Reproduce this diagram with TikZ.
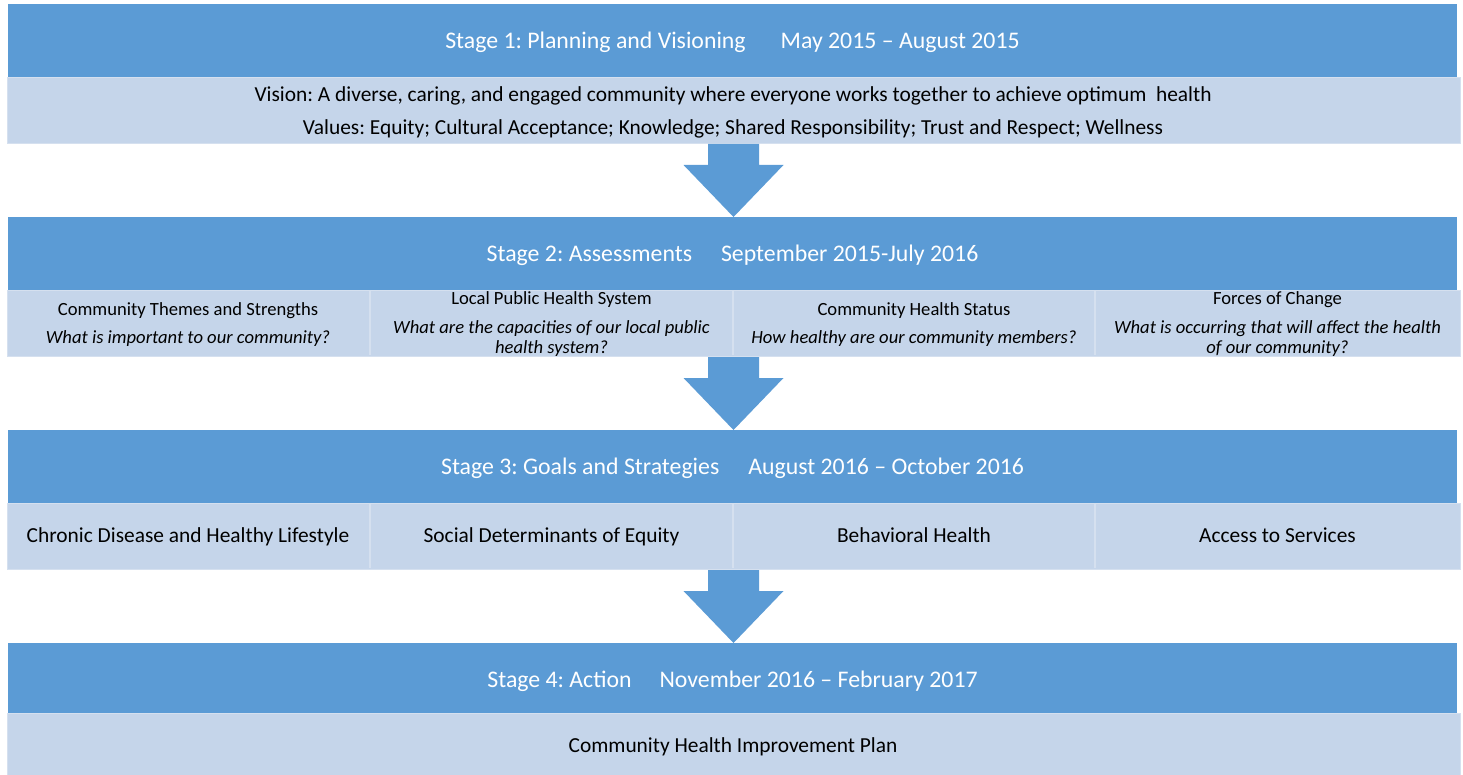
\documentclass[tikz,border=0pt]{standalone}
\usepackage{fontspec}
\setmainfont{Carlito}
\usetikzlibrary{calc}
\definecolor{hdrblue}{HTML}{5B9BD5}
\definecolor{bandblue}{HTML}{C5D5EA}
\definecolor{edgeblue}{HTML}{D5E0EF}
\tikzset{
  hdrbox/.style={fill=hdrblue, draw=none, inner sep=0pt, anchor=north west, minimum width=1449pt},
  bandbox/.style={fill=bandblue, draw=edgeblue, line width=1pt, inner sep=0pt, anchor=north west, minimum width=1453pt, minimum height=66pt},
  txt/.style={inner sep=0pt, text height=0.68em, text depth=0.2em},
  hdrtext/.style={txt, yshift=-6pt, text=white, font=\fontsize{23.8}{28}\selectfont},
  bodytext/.style={txt, yshift=-5pt, text=black, font=\fontsize{21.4}{25}\selectfont},
  celltitle/.style={txt, yshift=-4.5pt, text=black, font=\fontsize{18.6}{22}\selectfont},
  cellq/.style={txt, yshift=-4.5pt, text=black, font=\fontsize{18.6}{22}\selectfont\itshape},
  itemtext/.style={txt, yshift=-5pt, text=black, font=\fontsize{21.4}{25}\selectfont},
  divider/.style={draw=edgeblue, line width=2pt},
  flow/.style={fill=hdrblue, draw=none}
}
\newcommand\flowarrow[2]{%
  \path[flow] let \p1=(#1.south), \p2=(#2.north) in
    (\x1-25.5pt,\y1) -- (\x1+25.5pt,\y1) -- (\x1+25.5pt,\y2+52pt) -- (\x1+50pt,\y2+52pt)
    -- (\x1,\y2) -- (\x1-50pt,\y2+52pt) -- (\x1-25.5pt,\y2+52pt) -- cycle;}
\frenchspacing
\begin{document}
\begin{tikzpicture}[x=1pt,y=-1pt]
\useasboundingbox (0,0) rectangle (1463,775);
% Stage 1
\node[hdrbox, minimum height=73pt] (h1) at (8,4) {};
\node[bandbox] (b1) at (6.5,77) {};
\node[hdrtext] (t1) at (732.5,40.5) {Stage 1: Planning and Visioning\hspace{35pt}May 2015 – August 2015};
\node[bodytext] (vision) at (733,94) {Vision: A diverse, caring, and engaged community where everyone works together to achieve optimum\ \ health};
\node[bodytext] (values) at (733,127) {Values: Equity; Cultural Acceptance; Knowledge; Shared Responsibility; Trust and Respect; Wellness};
% Stage 2
\node[hdrbox, minimum height=73pt] (h2) at (8,217) {};
\node[bandbox] (b2) at (6.5,290) {};
\node[hdrtext] (t2) at (732.5,253) {Stage 2: Assessments\hspace{29pt}September 2015-July 2016};
\draw[divider] (370,291) -- (370,355);
\draw[divider] (733,291) -- (733,355);
\draw[divider] (1095,291) -- (1095,355);
\node[celltitle] (c1t) at (188,309) {Community Themes and Strengths};
\node[cellq] (c1q) at (188,337) {What is important to our community?};
\node[celltitle] (c2t) at (551.5,298) {Local Public Health System};
\node[cellq] (c2qa) at (551.5,327) {What are the capacities of our local public};
\node[cellq] (c2qb) at (551.5,347) {health system?};
\node[celltitle] (c3t) at (914,309) {Community Health Status};
\node[cellq] (c3q) at (914,337) {How healthy are our community members?};
\node[celltitle] (c4t) at (1277.5,298) {Forces of Change};
\node[cellq] (c4qa) at (1277.5,327) {What is occurring that will affect the health};
\node[cellq] (c4qb) at (1277.5,347) {of our community?};
% Stage 3
\node[hdrbox, minimum height=73pt] (h3) at (8,430) {};
\node[bandbox] (b3) at (6.5,503) {};
\node[hdrtext] (t3) at (732.5,466) {Stage 3: Goals and Strategies\hspace{29pt}August 2016 – October 2016};
\draw[divider] (370,504) -- (370,568);
\draw[divider] (733,504) -- (733,568);
\draw[divider] (1095,504) -- (1095,568);
\node[itemtext] (g1) at (188,535.5) {Chronic Disease and Healthy Lifestyle};
\node[itemtext] (g2) at (551.5,535.5) {Social Determinants of Equity};
\node[itemtext] (g3) at (914,535.5) {Behavioral Health};
\node[itemtext] (g4) at (1277.5,535.5) {Access to Services};
% Stage 4
\node[hdrbox, minimum height=70pt] (h4) at (8,643) {};
\node[bandbox, minimum height=62pt] (b4) at (6.5,713) {};
\node[hdrtext] (t4) at (732.5,679) {Stage 4: Action\hspace{28pt}November 2016 – February 2017};
\node[itemtext] (plan) at (733,745.5) {Community Health Improvement Plan};
% Arrows
\flowarrow{b1}{h2}
\flowarrow{b2}{h3}
\flowarrow{b3}{h4}
\end{tikzpicture}
\end{document}
